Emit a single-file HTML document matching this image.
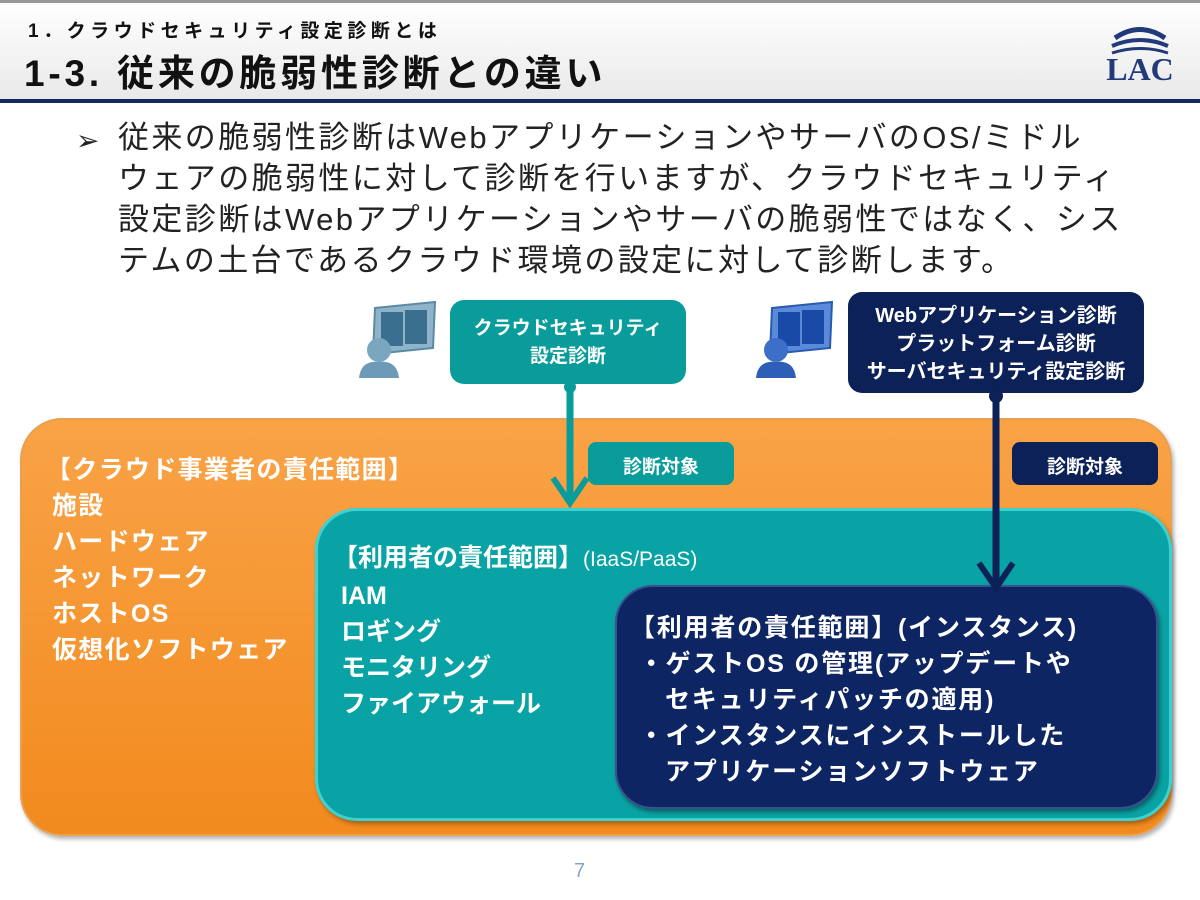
<!DOCTYPE html>
<html><head><meta charset="utf-8"><style>
body{margin:0;width:1200px;height:900px;position:relative;overflow:hidden;background:#fff;font-family:"Liberation Sans","Noto Sans CJK JP",sans-serif;}
.a{position:absolute;white-space:nowrap;}
.hdr{position:absolute;left:0;top:0;width:1200px;height:99px;background:linear-gradient(#fff,#e9e9e9);border-top:3px solid #999;box-sizing:border-box;}
.line{position:absolute;left:0;top:99px;width:1200px;height:4px;background:#13295e;}
.box{position:absolute;box-sizing:border-box;}
</style></head><body>
<div class="hdr"></div><div class="line"></div>
<div class="a" style="left:28px;top:16px;font-size:19px;font-weight:bold;color:#111;letter-spacing:4.5px;">1．クラウドセキュリティ設定診断とは</div>
<div class="a" style="left:24px;top:43px;font-size:37px;font-weight:bold;color:#111;letter-spacing:3.8px;">1-3. 従来の脆弱性診断との違い</div>
<svg class="a" style="left:1090px;top:16px" width="100" height="70"><path d="M25 22 Q50 5 75 22" stroke="#233a7a" stroke-width="5" fill="none"/><path d="M22 30 Q50 18 78 30" stroke="#233a7a" stroke-width="4" fill="none"/><path d="M22 37 Q50 28 78 37" stroke="#233a7a" stroke-width="3" fill="none"/><text x="50" y="64" text-anchor="middle" font-family="Liberation Serif" font-weight="bold" font-size="32" fill="#233a7a">LAC</text></svg>
<div class="a" style="left:76px;top:124px;font-size:28px;color:#222;">➢</div>
<div class="a" style="left:118px;top:117px;font-size:31px;line-height:41px;color:#222;letter-spacing:2.4px;">従来の脆弱性診断はWebアプリケーションやサーバのOS/ミドル<br>ウェアの脆弱性に対して診断を行いますが、クラウドセキュリティ<br>設定診断はWebアプリケーションやサーバの脆弱性ではなく、シス<br>テムの土台であるクラウド環境の設定に対して診断します。</div>
<svg class="a" style="left:355px;top:300px" width="90" height="80"><polygon points="20,8 80,2 78,48 18,54" fill="#8fb3c8" stroke="#5a8aa5" stroke-width="2"/><rect x="26" y="12" width="22" height="34" fill="#3a6f8f"/><rect x="50" y="10" width="22" height="34" fill="#3a6f8f"/><circle cx="24" cy="50" r="12" fill="#7aa6c0"/><path d="M4 78 Q6 60 24 62 Q42 60 44 78Z" fill="#6d9bb7"/></svg>
<svg class="a" style="left:752px;top:300px" width="90" height="80"><polygon points="20,8 80,2 78,48 18,54" fill="#5a8ad8" stroke="#2a5ab0" stroke-width="2"/><rect x="26" y="12" width="22" height="34" fill="#1a4aa8"/><rect x="50" y="10" width="22" height="34" fill="#1a4aa8"/><circle cx="24" cy="50" r="12" fill="#3b6fc8"/><path d="M4 78 Q6 60 24 62 Q42 60 44 78Z" fill="#2d5fb8"/></svg>
<div class="box" style="left:20px;top:418px;width:1152px;height:418px;border-radius:42px;background:linear-gradient(#f9a347,#f28a1e);border:2px solid #e9a050;box-shadow:2px 3px 4px rgba(0,0,0,.3);"></div>
<div class="box" style="left:315px;top:508px;width:857px;height:313px;border-radius:42px;background:#0aa3a5;border:3px solid #3cd2d2;box-shadow:2px 3px 4px rgba(0,0,0,.3);"></div>
<div class="box" style="left:615px;top:585px;width:543px;height:224px;border-radius:38px;background:#0e2563;border:2px solid #3a5090;box-shadow:2px 3px 4px rgba(0,0,0,.4);"></div>
<div class="box" style="left:450px;top:300px;width:236px;height:84px;border-radius:14px;background:#0a9b9b;"></div>
<div class="box" style="left:848px;top:292px;width:296px;height:101px;border-radius:14px;background:#0c2157;"></div>
<div class="box" style="left:588px;top:442px;width:146px;height:43px;border-radius:8px;background:#0a9b9b;"></div>
<div class="box" style="left:1012px;top:442px;width:146px;height:43px;border-radius:8px;background:#0c2157;"></div>
<svg class="a" style="left:0;top:0" width="1200" height="900"><line x1="570" y1="383" x2="570" y2="500" stroke="#0a9b9b" stroke-width="7"/><polyline points="553,478 570,503 587,478" stroke="#0a9b9b" stroke-width="6" fill="none"/><line x1="996" y1="392" x2="996" y2="585" stroke="#0c2157" stroke-width="7"/><polyline points="979,563 996,588 1013,563" stroke="#0c2157" stroke-width="6" fill="none"/><circle cx="570" cy="387" r="6" fill="#0a9b9b"/><circle cx="996" cy="396" r="7" fill="#0c2157"/></svg>
<div class="a" style="left:450px;top:315px;width:236px;text-align:center;font-size:19px;font-weight:bold;color:#fff;line-height:28px;">クラウドセキュリティ<br>設定診断</div>
<div class="a" style="left:848px;top:302px;width:296px;text-align:center;font-size:20px;font-weight:bold;color:#fff;line-height:28px;">Webアプリケーション診断<br>プラットフォーム診断<br>サーバセキュリティ設定診断</div>
<div class="a" style="left:588px;top:452px;width:146px;text-align:center;font-size:19px;font-weight:bold;color:#fff;">診断対象</div>
<div class="a" style="left:1012px;top:452px;width:146px;text-align:center;font-size:19px;font-weight:bold;color:#fff;">診断対象</div>
<div class="a" style="left:46px;top:452px;font-size:25px;line-height:36px;color:#fff;font-weight:bold;letter-spacing:1.3px;">【クラウド事業者の責任範囲】<br><span style="padding-left:6px">施設</span><br><span style="padding-left:6px">ハードウェア</span><br><span style="padding-left:6px">ネットワーク</span><br><span style="padding-left:6px">ホストOS</span><br><span style="padding-left:6px">仮想化ソフトウェア</span></div>
<div class="a" style="left:333px;top:540px;font-size:25px;line-height:36px;color:#fff;font-weight:bold;">【利用者の責任範囲】<span style="font-size:21px;font-weight:normal">(IaaS/PaaS)</span><br><span style="padding-left:8px">IAM</span><br><span style="padding-left:8px">ロギング</span><br><span style="padding-left:8px">モニタリング</span><br><span style="padding-left:8px">ファイアウォール</span></div>
<div class="a" style="left:630px;top:610px;font-size:25px;line-height:36px;color:#fff;font-weight:bold;letter-spacing:1.8px;">【利用者の責任範囲】(インスタンス)<br>&nbsp;・ゲストOS の管理(アップデートや<br>&nbsp;&nbsp;&nbsp;&nbsp;セキュリティパッチの適用)<br>&nbsp;・インスタンスにインストールした<br>&nbsp;&nbsp;&nbsp;&nbsp;アプリケーションソフトウェア</div>
<div class="a" style="left:574px;top:860px;font-size:20px;color:#8aa4c8;">7</div>
</body></html>
